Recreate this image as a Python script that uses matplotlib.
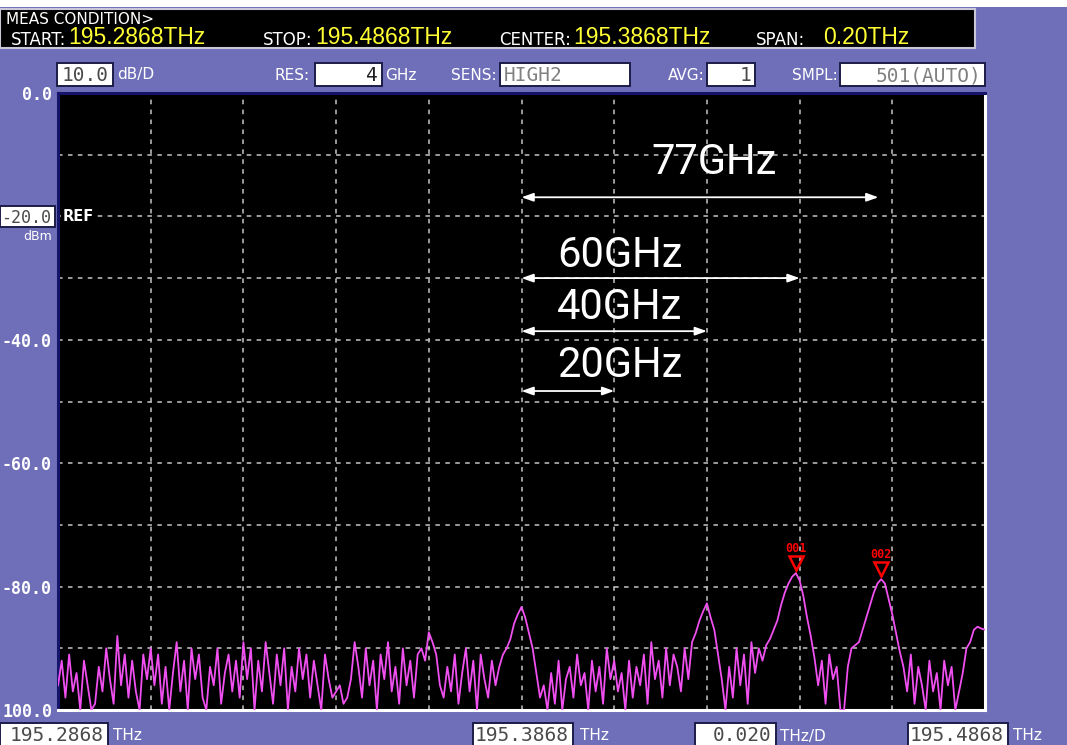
import numpy as np
import matplotlib
matplotlib.use("Agg")
import matplotlib.pyplot as plt
from matplotlib.patches import Rectangle

# ---- measurement settings -------------------------------------------------
START_THZ = 195.2868
STOP_THZ = 195.4868
CENTER_THZ = 195.3868
REF_DBM = -20.0
DB_PER_DIV = 10.0

y_tick_labels = ["0.0", "-20.0", "-40.0", "-60.0", "-80.0", "100.0"]
y_tick_levels = [0, -20, -40, -60, -80, -100]

# ---- trace levels (dBm), evenly spaced from START to STOP ----------------
levels = [
    # 195.2868 - 195.3068
    -96, -92, -98, -91, -97, -94, -100, -92, -96, -100, -99, -93, -97, -90, -95,
    -99, -88, -96, -91, -98, -92, -97, -100, -91, -95,
    # 195.3068 - 195.3268
    -90, -96, -91, -99, -93, -100, -94, -89, -97, -92, -100, -90, -95, -91, -98,
    -100, -93, -96, -90, -99, -94, -91, -97, -92, -98,
    # 195.3268 - 195.3468
    -89, -95, -90, -100, -92, -97, -89, -94, -99, -91, -96, -90, -100, -93, -97,
    -90, -95, -91, -98, -92, -96, -100, -91, -95, -98,
    # 195.3468 - 195.3668
    -97, -96, -99, -98, -95, -89, -93, -98, -90, -96, -92, -100, -91, -95, -89,
    -97, -93, -99, -90, -96, -92, -98, -91, -90, -92,
    # 195.3668 - 195.3868
    -87.4, -89, -91, -96, -98, -93, -97, -91, -99, -94, -90, -97, -92, -100, -91,
    -95, -98, -92, -96, -93, -91, -90, -88.5, -86, -84.5,
    # 195.3868 - 195.4068
    -83.3, -85, -87.5, -90, -94, -98, -96, -100, -94, -99, -92, -100, -95, -93, -98,
    -91, -96, -94, -100, -92, -97, -93, -99, -90, -95,
    # 195.4068 - 195.4268
    -92, -97, -94, -100, -92, -98, -93, -96, -91, -99, -89, -95, -92, -98, -90,
    -96, -91, -93, -97, -90, -95, -89, -87.5, -85.5, -84,
    # 195.4268 - 195.4468
    -82.7, -85, -87, -91, -95, -100, -93, -98, -90, -96, -91, -99, -89, -94, -90,
    -92, -89.5, -88.5, -87, -85.5, -83, -81, -79.5, -78.4, -77.8,
    # 195.4468 - 195.4668
    -79, -81.5, -85, -88, -91.5, -96, -92, -99, -91, -95, -93, -100, -100, -93, -90,
    -89.5, -89, -87, -85, -83, -81, -79.5, -78.8, -79.5, -82,
    # 195.4668 - 195.4868
    -84.5, -87.5, -90.5, -93, -97, -91, -99, -93, -96, -100, -92, -97, -94, -100, -92,
    -96, -93, -100, -97, -94, -90, -89, -87, -86.5, -86.8, -87,
]

marker_names = ["001", "002"]
marker_index = [199, 222]

spacing_ghz = [20, 40, 60, 77]
spacing_arrow_dbm = [-48.3, -38.6, -30.0, -16.9]
spacing_text_dbm = [-44.2, -34.8, -26.3, -11.2]
spacing_text_offset_thz = [0.0077, 0.0076, 0.0078, 0.0280]

# ---- colours & figure helpers ---------------------------------------------
PURPLE = "#6F6FB9"
YELLOW = "#FFFF33"
TRACE = "#F050F0"
BOX_TXT = "#4A4A4A"
W, H = 1067, 745


def fx(x):
    return x / W


def fy(y):
    return 1 - y / H


fig = plt.figure(figsize=(W / 100, H / 100), dpi=100, facecolor=PURPLE)


def rect(x0, y0, x1, y1, fc, ec="none", lw=0.0, z=1):
    fig.add_artist(Rectangle((fx(x0), fy(y1)), (x1 - x0) / W, (y1 - y0) / H,
                             transform=fig.transFigure, facecolor=fc,
                             edgecolor=ec, linewidth=lw, zorder=z))


def label(x, y, s, ha="left", color="white", size=11, family="DejaVu Sans",
          weight="normal"):
    fig.text(fx(x), fy(y), s, ha=ha, va="center", color=color, fontsize=size,
             family=family, fontweight=weight, zorder=5)


def valuebox(x0, y0, x1, y1, s, ha="right", size=14, color=BOX_TXT):
    rect(x0, y0, x1, y1, "white", ec="#1C1C48", lw=1.4, z=3)
    xt = x1 - 4 if ha == "right" else x0 + 4
    fig.text(fx(xt), fy((y0 + y1) / 2 + 1), s, ha=ha, va="center", color=color,
             fontsize=size, family="DejaVu Sans Mono", zorder=5)


# ---- top strip and header panel --------------------------------------------
rect(0, 0, 1067, 7, "white", z=1)
rect(0, 9, 975, 48, "black", ec="#C8C8D8", lw=1.5, z=2)
label(6, 19, "MEAS CONDITION>", size=11)
VAL_FONT = "Liberation Sans"
label(66, 40, "START:", ha="right", size=12)
label(68, 38, f"{START_THZ:.4f}THz", color=YELLOW, size=16.5, family=VAL_FONT)
label(312, 40, "STOP:", ha="right", size=12)
label(315, 38, f"{STOP_THZ:.4f}THz", color=YELLOW, size=16.5, family=VAL_FONT)
label(571, 40, "CENTER:", ha="right", size=12)
label(573, 38, f"{CENTER_THZ:.4f}THz", color=YELLOW, size=16.5, family=VAL_FONT)
label(805, 40, "SPAN:", ha="right", size=12)
label(823, 38, f"{STOP_THZ - START_THZ:.2f}THz", color=YELLOW, size=16.5,
      family=VAL_FONT)

# ---- settings row ----------------------------------------------------------
valuebox(57, 63, 113, 86, f"{DB_PER_DIV:.1f}")
label(117, 75, "dB/D", size=11)
label(310, 75, "RES:", ha="right", size=11)
valuebox(315, 63, 382, 86, "4", color="#202020")
label(385, 75, "GHz", size=11)
label(497, 75, "SENS:", ha="right", size=11)
valuebox(500, 63, 630, 86, "HIGH2", ha="left", color="#808080")
label(705, 75, "AVG:", ha="right", size=11)
valuebox(707, 63, 755, 86, "1")
label(838, 75, "SMPL:", ha="right", size=11)
valuebox(840, 63, 985, 86, f"{len(levels) * 2 - 1}(AUTO)", color="#808080")

# ---- plot area ---------------------------------------------------------------
ax = fig.add_axes([fx(58), fy(710), (985 - 58) / W, (710 - 93) / H])
ax.set_facecolor("black")
ax.set_xlim(START_THZ, STOP_THZ)
ax.set_ylim(-100, 0)
ax.set_xticks(np.linspace(START_THZ, STOP_THZ, 11))
ax.set_yticks(np.arange(-100, 1, DB_PER_DIV))
ax.tick_params(length=0, labelbottom=False, labelleft=False)
ax.grid(True, color="#C4C4C4", linestyle=(0, (3, 3.5)), linewidth=1.1)
for side, col in (("left", "#14146A"), ("top", "#14146A"),
                  ("right", "white"), ("bottom", "white")):
    ax.spines[side].set_color(col)
    ax.spines[side].set_linewidth(2.2)

freq = np.linspace(START_THZ, STOP_THZ, len(levels))
ax.plot(freq, levels, color=TRACE, linewidth=1.3, zorder=3)

# peak markers
for name, idx in zip(marker_names, marker_index):
    ax.plot(freq[idx], levels[idx] + 1.7, marker="v", markersize=10,
            markerfacecolor="none", markeredgecolor="red", markeredgewidth=1.8,
            zorder=4)
    ax.annotate(name, (freq[idx], levels[idx]), xytext=(0, 18),
                textcoords="offset points", ha="center", va="center",
                color="red", fontsize=8.5, fontweight="bold",
                family="DejaVu Sans Mono", zorder=4)

# channel spacing arrows
for g, ya, yt, dx in zip(spacing_ghz, spacing_arrow_dbm, spacing_text_dbm,
                         spacing_text_offset_thz):
    x_end = CENTER_THZ + g / 1000.0
    ax.annotate("", xy=(x_end, ya), xytext=(CENTER_THZ, ya),
                arrowprops=dict(arrowstyle="<|-|>,head_length=0.7,head_width=0.25",
                                color="white", lw=1.3, shrinkA=0, shrinkB=0),
                zorder=5)
    ax.text(CENTER_THZ + dx, yt, f"{g}GHz", ha="left", va="center",
            color="white", fontsize=30, family="Roboto", fontweight="normal",
            zorder=5)

# reference level tag inside the plot
ax.text(START_THZ + 0.001, REF_DBM, "REF", ha="left", va="center",
        color="white", fontsize=10.5, fontweight="bold",
        bbox=dict(facecolor="black", edgecolor="none", pad=1.5), zorder=5)

# ---- level scale on the left ---------------------------------------------
for s, lv in zip(y_tick_labels, y_tick_levels):
    ypix = 93 + (-lv) / 100.0 * (710 - 93)
    if lv == REF_DBM:
        valuebox(0, ypix - 10, 55, ypix + 11, s, size=12)
        label(52, ypix + 20, "dBm", ha="right", size=9)
    else:
        label(52, ypix + 2, s, ha="right", size=12, family="DejaVu Sans Mono",
              weight="bold")

# ---- frequency scale at the bottom ------------------------------------------
valuebox(0, 723, 108, 746, f"{START_THZ:.4f}")
label(113, 736, "THz", size=11)
valuebox(473, 723, 573, 746, f"{CENTER_THZ:.4f}")
label(580, 736, "THz", size=11)
valuebox(695, 723, 776, 746, f"{(STOP_THZ - START_THZ) / 10:.3f}")
label(780, 736, "THz/D", size=11)
valuebox(908, 723, 1008, 746, f"{STOP_THZ:.4f}")
label(1013, 736, "THz", size=11)

fig.savefig("out.png", dpi=100, facecolor=PURPLE)
